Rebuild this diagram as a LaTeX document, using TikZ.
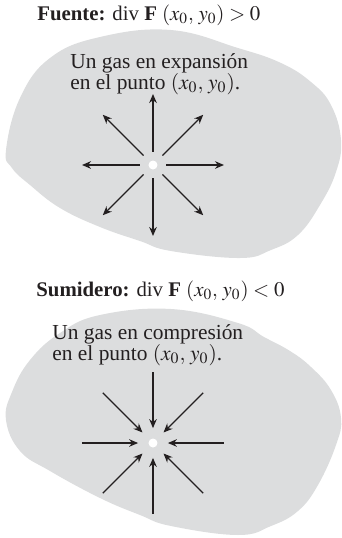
\documentclass[tikz,border=0pt]{standalone}
\usepackage{mathptmx}
\usepackage{fontspec}
\setmainfont{Liberation Serif}
\usepackage{tikz}
\usetikzlibrary{arrows.meta}
\usepackage{xcolor}
\definecolor{ink}{HTML}{231F20}
\definecolor{blobgrey}{HTML}{DCDDDE}

\begin{document}
\begin{tikzpicture}[
        x=0.5pt, y=-0.5pt,
        region/.style={fill=blobgrey, draw=none},
        ray/.style={-{Stealth[length=4.5pt, width=3.8pt]}, line width=0.6pt, draw=ink},
        dot/.style={circle, fill=white, draw=none, minimum size=4.5pt, inner sep=0pt},
        title/.style={anchor=base west, inner sep=0pt, text=ink,
          font=\fontsize{10.4}{12}\selectfont},
        lbl/.style={anchor=base west, inner sep=0pt, text=ink, align=left,
          font=\fontsize{10.7}{10.5}\selectfont},
      ]
      \useasboundingbox (0,0) rectangle (342,538);

      % Source: expanding gas
      \node[title] (t1) at (37,20) {\textbf{Fuente:} div \textbf{F} $(x_0,\,y_0) > 0$};
      \fill[region] plot[smooth cycle, tension=0.7] coordinates {
        (6,150) (20,98) (50,58) (100,37) (171,30) (238,48) (281,63)
        (311,82) (331,105) (341,140) (336,172) (320,205) (298,235)
        (271,250) (240,258) (171,251) (140,241) (100,227) (60,208)
        (30,185) (12,168)};
      \node[lbl] (g1) at (70,89) {Un gas en expansión\\en el punto $(x_0,\,y_0)$.};
      \node[dot] (c1) at (153,165) {};
      \foreach \a in {0,45,...,315} {
        \path (c1) ++(\a:71) coordinate (o\a);
        \draw[ray, shorten <=4.25pt] (c1) -- (o\a);
      }

      % Sink: compressing gas
      \node[title] (t2) at (36,296) {\textbf{Sumidero:} div \textbf{F} $(x_0,\,y_0) < 0$};
      \fill[region] plot[smooth cycle, tension=0.7] coordinates {
        (6,420) (12,392) (30,360) (60,333) (100,315) (171,309) (238,323)
        (264,337) (290,351) (311,367) (331,390) (341,418) (336,445)
        (318,485) (298,511) (271,526) (238,535) (171,526) (140,515)
        (100,498) (50,471) (20,451)};
      \node[lbl] (g2) at (52,360) {Un gas en compresión\\en el punto $(x_0,\,y_0)$.};
      \node[dot] (c2) at (153,443) {};
      \foreach \a in {0,45,...,315} {
        \path (c2) ++(\a:71) coordinate (i\a);
        \draw[ray, shorten >=5pt] (i\a) -- (c2);
      }

\end{tikzpicture}
\end{document}
